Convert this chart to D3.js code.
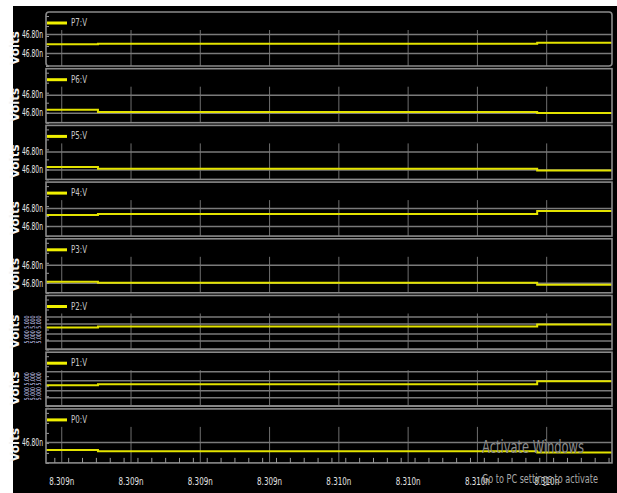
<!DOCTYPE html>
<html>
<head>
<meta charset="utf-8">
<script src="https://cdn.jsdelivr.net/npm/d3@7/dist/d3.min.js"></script>
<style>
  body { margin: 0; background: #fff; }
  svg { display: block; }
</style>
</head>
<body>
<script>
// time axis, in ns
var timeDomain = [8.309128, 8.309945];
var timeTicks = [8.30915, 8.30925, 8.30935, 8.30945, 8.30955, 8.30965, 8.30975, 8.30985];
var stepTimes = [8.309203, 8.309837];

// voltage axis, in nV (same span for every panel)
var voltDomain = [46.7970, 46.8024];

var signalNames = ["P7:V", "P6:V", "P5:V", "P4:V", "P3:V", "P2:V", "P1:V", "P0:V"];

// level before first step, between steps, after second step
var levelsP7 = [46.79917, 46.79923, 46.79933];
var levelsP6 = [46.79830, 46.79807, 46.79797];
var levelsP5 = [46.79823, 46.79807, 46.79790];
var levelsP4 = [46.79910, 46.79920, 46.79950];
var levelsP3 = [46.79810, 46.79800, 46.79780];
var levelsP2 = [46.79920, 46.79930, 46.79950];
var levelsP1 = [46.79910, 46.79920, 46.79950];
var levelsP0 = [46.79830, 46.79817, 46.79803];

// grid (tick) values per panel
var ticksP7 = [46.8002, 46.7983];
var ticksP6 = [46.7998, 46.7980];
var ticksP5 = [46.7998, 46.7980];
var ticksP4 = [46.7998, 46.7980];
var ticksP3 = [46.7998, 46.7980];
var ticksP2 = [46.8003, 46.7996, 46.7986, 46.7979, 46.7971];
var ticksP1 = [46.8005, 46.7996, 46.7986, 46.7979, 46.7971];
var ticksP0 = [46.7991];

var allLevels = [levelsP7, levelsP6, levelsP5, levelsP4, levelsP3, levelsP2, levelsP1, levelsP0];
var allTicks = [ticksP7, ticksP6, ticksP5, ticksP4, ticksP3, ticksP2, ticksP1, ticksP0];

var W = 617, H = 493;
var left = 46, right = 612;
var top0 = 12, pitch = 56.7, panelH = 54;

var svg = d3.select("body").append("svg")
    .attr("width", W)
    .attr("height", H);

// black window
svg.append("rect")
    .attr("x", 13).attr("y", 6)
    .attr("width", W - 13).attr("height", H - 6)
    .attr("fill", "#000");

var x = d3.scaleLinear().domain(timeDomain).range([left, right]);
var fmtV = function(d) { return d3.format(".2f")(d) + "n"; };
var fmtT = function(d) { return d3.format(".3f")(d) + "n"; };
var narrow = "'DejaVu Sans Condensed', 'Liberation Sans', sans-serif";

signalNames.forEach(function(name, i) {
    var top = top0 + i * pitch;
    var bottom = top + panelH;
    var y = d3.scaleLinear().domain(voltDomain).range([bottom, top]);
    var g = svg.append("g");

    // vertical grid
    g.append("g")
        .attr("transform", "translate(0," + bottom + ")")
        .call(d3.axisTop(x).tickValues(timeTicks).tickSize(panelH - 18).tickFormat(""))
        .call(function(a) {
            a.select(".domain").remove();
            a.selectAll("line").attr("stroke", "#6e6e6e").attr("stroke-width", 1);
        });

    // horizontal grid + labels
    var tiny = (name == "P2:V" || name == "P1:V");
    g.append("g")
        .attr("transform", "translate(" + left + ",0)")
        .call(d3.axisLeft(y).tickValues(allTicks[i]).tickSize(-(right - left)).tickPadding(3).tickFormat(tiny ? "" : fmtV))
        .call(function(a) {
            a.select(".domain").remove();
            a.selectAll("line").attr("stroke", "#7a7a7a").attr("stroke-width", 1.5);
            a.selectAll("text")
                .attr("fill", "#e8e8e8")
                .attr("textLength", 21)
                .attr("lengthAdjust", "spacingAndGlyphs")
                .style("font-family", narrow)
                .style("font-size", "10px");
        });

    // tiny cramped labels for P2 / P1
    if (tiny) {
        var cols = [27, 33, 39];
        cols.forEach(function(cx) {
            g.append("text")
                .attr("transform", "translate(" + (cx + 2) + "," + (top + 34) + ") rotate(-90)")
                .attr("text-anchor", "middle")
                .attr("fill", "#c8c8ee")
                .attr("textLength", 28)
                .attr("lengthAdjust", "spacingAndGlyphs")
                .style("font-family", narrow)
                .style("font-size", "6.5px")
                .text("5.000 5.000");
        });
    }

    // minor ticks on left border
    g.append("g")
        .attr("transform", "translate(" + left + ",0)")
        .call(d3.axisRight(y).ticks(6).tickSize(3).tickFormat(""))
        .call(function(a) {
            a.select(".domain").remove();
            a.selectAll("line").attr("stroke", "#9a9a9a");
        });

    // signal
    var pts = [[timeDomain[0], allLevels[i][0]], [stepTimes[0], allLevels[i][1]],
               [stepTimes[1], allLevels[i][2]], [timeDomain[1], allLevels[i][2]]];
    g.append("path")
        .datum(pts)
        .attr("fill", "none")
        .attr("stroke", "#e3e300")
        .attr("stroke-width", 2)
        .attr("d", d3.line()
            .x(function(d) { return x(d[0]); })
            .y(function(d) { return y(d[1]); })
            .curve(d3.curveStepAfter));

    // panel border
    g.append("rect")
        .attr("x", left).attr("y", top)
        .attr("width", right - left).attr("height", panelH)
        .attr("rx", i == 0 ? 3 : 0)
        .attr("fill", "none")
        .attr("stroke", "#8a8a8a")
        .attr("stroke-width", 1.6);

    // legend
    g.append("line")
        .attr("x1", left + 1).attr("x2", left + 21)
        .attr("y1", top + 11).attr("y2", top + 11)
        .attr("stroke", "#f0f000")
        .attr("stroke-width", 3);
    g.append("text")
        .attr("x", left + 25).attr("y", top + 14)
        .attr("fill", "#c8c8c8")
        .attr("textLength", 16)
        .attr("lengthAdjust", "spacingAndGlyphs")
        .style("font-family", narrow)
        .style("font-size", "11px")
        .text(name);

    // y title
    g.append("text")
        .attr("transform", "translate(19," + (top + 36) + ") rotate(-90)")
        .attr("text-anchor", "middle")
        .attr("fill", "#f4f4f4")
        .style("font-family", "'DejaVu Sans', sans-serif")
        .style("font-weight", "bold")
        .style("font-size", "12px")
        .text("Volts");

    // bottom axis on last panel
    if (i == signalNames.length - 1) {
        g.append("g")
            .attr("transform", "translate(0," + bottom + ")")
            .call(d3.axisTop(x).ticks(32).tickSize(5).tickFormat(""))
            .call(function(a) {
                a.select(".domain").remove();
                a.selectAll("line").attr("stroke", "#9a9a9a");
            });
        g.append("g")
            .attr("transform", "translate(0," + bottom + ")")
            .call(d3.axisBottom(x).tickValues(timeTicks).tickSize(0).tickPadding(15).tickFormat(fmtT))
            .call(function(a) {
                a.select(".domain").remove();
                a.selectAll("text")
                    .attr("fill", "#e0e0e0")
                    .attr("textLength", 25)
                    .attr("lengthAdjust", "spacingAndGlyphs")
                    .style("font-family", narrow)
                    .style("font-size", "10px");
            });
    }
});

// OS watermark seen over the capture
svg.append("text")
    .attr("x", 482).attr("y", 453)
    .attr("fill", "#8c8c8c")
    .attr("textLength", 102)
    .attr("lengthAdjust", "spacingAndGlyphs")
    .style("font-family", narrow)
    .style("font-size", "17px")
    .text("Activate Windows");
svg.append("text")
    .attr("x", 482).attr("y", 483)
    .attr("fill", "#a8a8a8")
    .attr("textLength", 116)
    .attr("lengthAdjust", "spacingAndGlyphs")
    .style("font-family", narrow)
    .style("font-size", "13px")
    .text("Go to PC settings to activate");
</script>
</body>
</html>
